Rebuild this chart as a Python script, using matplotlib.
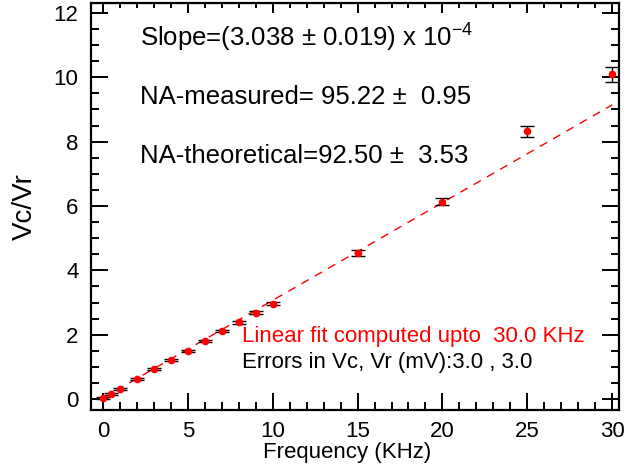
import numpy as np
import matplotlib
matplotlib.use("Agg")
import matplotlib.pyplot as plt
from matplotlib.ticker import MultipleLocator

plt.rcParams['font.family'] = ['Liberation Sans', 'DejaVu Sans']
plt.rcParams['mathtext.fontset'] = 'custom'
plt.rcParams['mathtext.rm'] = 'Liberation Sans'
plt.rcParams['mathtext.it'] = 'Liberation Sans'

# measured points (frequency in KHz, ratio Vc/Vr)
freq = [0, 0.5, 1, 2, 3, 4, 5, 6, 7, 8, 9, 10, 15, 20, 25, 30]
ratio = [0.02, 0.16, 0.32, 0.62, 0.92, 1.21, 1.50, 1.80, 2.12, 2.38, 2.68, 2.97,
         4.53, 6.13, 8.32, 10.09]
ratio_err = [0.03, 0.03, 0.03, 0.03, 0.03, 0.03, 0.04, 0.04, 0.04, 0.04, 0.05,
             0.05, 0.09, 0.11, 0.17, 0.22]

# linear fit result (per KHz)
fit_slope = 0.3038
fit_intercept = 0.03
fit_range = [0, 30]

fig = plt.figure(figsize=(6.26, 4.69), dpi=100)
ax = fig.add_axes([0.1454, 0.1258, 0.8434, 0.8678])

fx = np.array(fit_range, dtype=float)
ax.plot(fx, fit_slope * fx + fit_intercept, color='red', lw=1.0,
        linestyle=(0, (6, 5)), zorder=1)

ax.errorbar(freq, ratio, yerr=ratio_err, fmt='o', color='red', ms=4.5,
            mec='red', ecolor='black', elinewidth=1.0, capsize=4.7,
            capthick=1.0, zorder=3)

ax.set_xlim(-0.7, 30.4)
ax.set_ylim(-0.34, 12.31)
ax.xaxis.set_major_locator(MultipleLocator(5))
ax.xaxis.set_minor_locator(MultipleLocator(1))
ax.yaxis.set_major_locator(MultipleLocator(2))
ax.yaxis.set_minor_locator(MultipleLocator(0.5))

for s in ax.spines.values():
    s.set_linewidth(1.6)
ax.tick_params(which='both', direction='in', width=1.4, labelsize=16,
               left=True, right=True, bottom=True, top=False)
ax.tick_params(axis='x', which='major', length=12.5, pad=8)
ax.tick_params(axis='x', which='minor', length=6)
ax.tick_params(axis='y', which='major', length=12.5, pad=9)
ax.tick_params(axis='y', which='minor', length=6)

# shorter ticks along the top edge
top = ax.secondary_xaxis('top')
top.xaxis.set_major_locator(MultipleLocator(5))
top.xaxis.set_minor_locator(MultipleLocator(1))
top.tick_params(which='major', direction='in', length=7.5, width=1.4,
                labeltop=False)
top.tick_params(which='minor', direction='in', length=3.5, width=1.4)

ax.set_xlabel("Frequency (KHz)", fontsize=16)
ax.xaxis.set_label_coords(0.485, -0.079)
ax.set_ylabel("Vc/Vr", fontsize=20, labelpad=11)

ax.text(0.093, 0.892, r"Slope=(3.038 $\pm$ 0.019) x 10$^{-4}$", transform=ax.transAxes,
        fontsize=18.5, va='baseline')
ax.text(0.093, 0.751, "NA-measured= 95.22 \u00b1  0.95", transform=ax.transAxes,
        fontsize=18.5, va='baseline')
ax.text(0.093, 0.607, "NA-theoretical=92.50 \u00b1  3.53", transform=ax.transAxes,
        fontsize=18.5, va='baseline')
ax.text(0.286, 0.167, "Linear fit computed upto  30.0 KHz", transform=ax.transAxes,
        fontsize=16, color='red', va='baseline')
ax.text(0.286, 0.103, "Errors in Vc, Vr (mV):3.0 , 3.0", transform=ax.transAxes,
        fontsize=16, color='black', va='baseline')

fig.savefig("out.png", dpi=100)
